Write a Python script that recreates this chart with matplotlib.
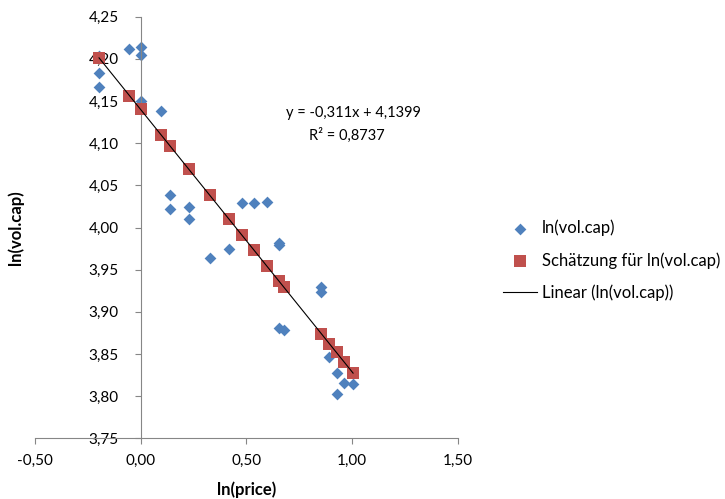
import matplotlib.pyplot as plt
from matplotlib.ticker import FuncFormatter, MultipleLocator

ln_price = [-0.197, -0.197, -0.197, -0.057, 0.0, 0.0, 0.0, 0.096, 0.139, 0.139,
            0.228, 0.228, 0.328, 0.416, 0.480, 0.538, 0.599, 0.655, 0.655, 0.655,
            0.678, 0.855, 0.855, 0.893, 0.927, 0.927, 0.963, 1.005]
ln_volcap = [4.203, 4.183, 4.167, 4.212, 4.214, 4.205, 4.150, 4.138, 4.038, 4.022,
             4.024, 4.010, 3.964, 3.974, 4.029, 4.029, 4.030, 3.982, 3.979, 3.881,
             3.878, 3.930, 3.924, 3.846, 3.828, 3.802, 3.816, 3.814]

# estimated values ("Schätzung")
est_price = [-0.197, -0.054, 0.0, 0.096, 0.139, 0.228, 0.328, 0.416, 0.480,
             0.538, 0.599, 0.655, 0.678, 0.855, 0.893, 0.927, 0.963, 1.005]
est_volcap = [4.201, 4.156, 4.140, 4.110, 4.097, 4.069, 4.038, 4.010, 3.991,
              3.973, 3.954, 3.936, 3.929, 3.874, 3.862, 3.852, 3.840, 3.827]

# linear trendline shown on the chart
slope = -0.311
intercept = 4.1399
r2 = 0.8737

plt.rcParams['font.family'] = ['Lato', 'DejaVu Sans']
axis_grey = '#868686'

fig = plt.figure(figsize=(7.25, 4.99), dpi=100)
ax = fig.add_axes([0.0483, 0.1216, 0.5830, 0.8449])

ax.scatter(ln_price, ln_volcap, marker='D', s=6.0 ** 2, color='#4F81BD',
           linewidths=0, zorder=2, label='ln(vol.cap)')
ax.scatter(est_price, est_volcap, marker='s', s=8.4 ** 2, color='#C0504D',
           linewidths=0, zorder=3, label='Schätzung für ln(vol.cap)')
tx = [min(ln_price), max(ln_price)]
ty = [intercept + slope * v for v in tx]
ax.plot(tx, ty, color='black', linewidth=0.8, zorder=4, label='Linear (ln(vol.cap))')

ax.set_xlim(-0.5, 1.5)
ax.set_ylim(3.75, 4.25)
ax.xaxis.set_major_locator(MultipleLocator(0.5))
ax.yaxis.set_major_locator(MultipleLocator(0.05))
fmt = FuncFormatter(lambda v, p: f"{v:.2f}".replace('.', ','))
ax.xaxis.set_major_formatter(fmt)
ax.yaxis.set_major_formatter(fmt)

ax.spines['top'].set_visible(False)
ax.spines['right'].set_visible(False)
ax.spines['left'].set_position(('data', 0))
for s in ('left', 'bottom'):
    ax.spines[s].set_color(axis_grey)
    ax.spines[s].set_linewidth(0.8)
ax.tick_params(axis='both', direction='out', length=4, width=0.8,
               color=axis_grey, labelsize=11, labelcolor='black')
ax.tick_params(axis='y', pad=12)
ax.tick_params(axis='x', pad=7)

ax.set_xlabel('ln(price)', fontsize=12, fontweight='bold')
ax.set_ylabel('ln(vol.cap)', fontsize=12, fontweight='bold')
ax.xaxis.set_label_coords(0.5, -0.103)
ax.yaxis.set_label_coords(-0.026, 0.5)

eq = f"y = {slope:.3f}x + {intercept:.4f}".replace('.', ',')
r2_txt = f"R² = {r2:.4f}".replace('.', ',')
ax.text(0.754, 0.7716, eq, transform=ax.transAxes, ha='center', va='center', fontsize=10.5)
ax.text(0.738, 0.7187, r2_txt, transform=ax.transAxes, ha='center', va='center', fontsize=10.5)

fig.legend(loc='center left', bbox_to_anchor=(0.6934, 0.478), frameon=False,
           fontsize=12, labelspacing=0.95, handlelength=2.04, handletextpad=0.3,
           borderpad=0, borderaxespad=0)

fig.savefig('out.png', dpi=100)
plt.close(fig)
